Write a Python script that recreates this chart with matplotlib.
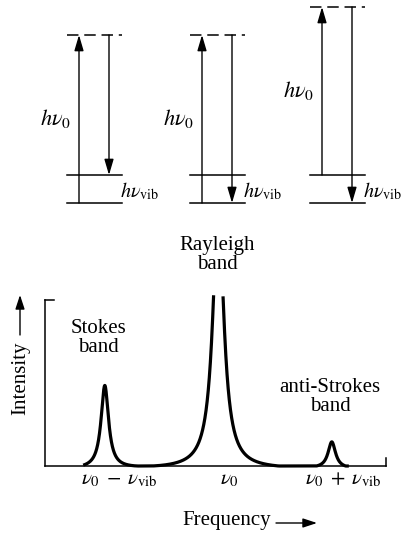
import numpy as np
import matplotlib
matplotlib.use("Agg")
import matplotlib.pyplot as plt
from matplotlib.transforms import ScaledTranslation

plt.rcParams['font.family'] = ['Liberation Serif', 'DejaVu Serif']
plt.rcParams['mathtext.fontset'] = 'stix'

# ---------------- data ----------------
# energy levels (units of h*nu_vib)
E_ground = 0.0
E_vib = 1.0
E_photon = 6.0          # h*nu0 in units of h*nu_vib
diagram_x = [67, 190, 310]                 # left edge of each level diagram (px)
up_from = [E_ground, E_ground, E_vib]       # absorbed photon start level
down_to = [E_vib, E_ground, E_ground]       # emitted photon end level

# spectrum: band positions (units of nu_vib relative to nu0), heights, widths
band_names = ["Stokes\nband", "Rayleigh\nband", "anti-Strokes\nband"]
band_pos = [-1.0, 0.0, 1.0]
band_height = [0.50, 1.58, 0.16]
band_width = [0.040, 0.058, 0.040]
tick_labels = [r"$\nu_0\;-\;\nu_{\rm vib}$", r"$\nu_0$", r"$\nu_0\;+\;\nu_{\rm vib}$"]

W, H = 404, 537
FS = 15
fig = plt.figure(figsize=(W / 100, H / 100), dpi=100)

# ---------------- top: energy level diagrams ----------------
top_px = 220
ax1 = fig.add_axes([0, 1 - top_px / H, 1, top_px / H])
px_per_E = 28.0
y0_px = 203.0
ax1.set_xlim(0, W)
ax1.set_ylim((y0_px - top_px) / px_per_E, y0_px / px_per_E)
ax1.axis('off')

lw_level = 1.1
astyle = "-|>,head_length=0.95,head_width=0.28"
for i, x0 in enumerate(diagram_x):
    x1 = x0 + 55
    ax1.plot([x0, x1], [E_ground, E_ground], color='black', lw=lw_level)
    ax1.plot([x0, x1], [E_vib, E_vib], color='black', lw=lw_level)
    E_virt = up_from[i] + E_photon
    ax1.plot([x0, x1], [E_virt, E_virt], color='black', lw=lw_level,
             linestyle=(0, (7.5, 3.8)))
    xu = x0 + 12
    xd = x0 + 42
    ax1.annotate("", xy=(xu, E_virt), xytext=(xu, up_from[i]),
                 arrowprops=dict(arrowstyle=astyle, color='black', lw=1.0,
                                 shrinkA=0, shrinkB=0))
    ax1.annotate("", xy=(xd, down_to[i]), xytext=(xd, E_virt),
                 arrowprops=dict(arrowstyle=astyle, color='black', lw=1.0,
                                 shrinkA=0, shrinkB=0))
    # labels
    ax1.text(xu - 8, (up_from[i] + E_virt) / 2, r"$h\nu_0$", fontsize=16,
             ha='right', va='center')
    ax1.text(x1 - 2, (E_ground + E_vib) / 2 - 0.1, r"$h\nu_{\rm vib}$",
             fontsize=14.5, ha='left', va='center')

# ---------------- bottom: spectrum ----------------
ax_l, ax_r, ax_t, ax_b = 45, 386, 300, 466
ax2 = fig.add_axes([ax_l / W, (H - ax_b) / H, (ax_r - ax_l) / W, (ax_b - ax_t) / H])
unit = 113.5
x_center_px = 218.3
ax2.set_xlim((ax_l - x_center_px) / unit, (ax_r - x_center_px) / unit)
ax2.set_ylim(0, 1.0)

x = np.linspace(-1.19, 1.15, 4000)
y = np.zeros_like(x)
for p, h, g in zip(band_pos, band_height, band_width):
    y += h * g**2 / ((x - p)**2 + g**2)
y = np.clip(y - 0.02, 0, None)
y = np.where(y > 1.03, np.nan, y)
ax2.plot(x, y, color='black', lw=2.3, clip_on=False, solid_capstyle='butt')

for s in ['top', 'right']:
    ax2.spines[s].set_visible(False)
for s in ['left', 'bottom']:
    ax2.spines[s].set_linewidth(1.1)
# small end marks
ax2.plot([0, 0.025], [1, 1], transform=ax2.transAxes, color='black', lw=1.1, clip_on=False)
ax2.plot([1, 1], [0, 0.05], transform=ax2.transAxes, color='black', lw=1.1, clip_on=False)

ax2.set_yticks([])
ax2.set_xticks(band_pos)
ax2.set_xticklabels(tick_labels, fontsize=15)
ax2.tick_params(axis='x', length=0, pad=3)
offs = [0.15, 0.11, 0.12]
for lab, o in zip(ax2.get_xticklabels(), offs):
    lab.set_transform(lab.get_transform() + ScaledTranslation(o, 0, fig.dpi_scale_trans))

label_px = [(98, 338), (217, 255), (330, 397)]
for name, (lx, ly) in zip(band_names, label_px):
    fig.text(lx / W, 1 - ly / H, name, fontsize=FS, ha='center', va='center',
             linespacing=1.05)

# axis titles with arrows
fig.text(21 / W, 1 - 378 / H, "Intensity", rotation=90, fontsize=FS,
         ha='center', va='center')
fig.add_artist(matplotlib.patches.FancyArrowPatch(
    (20 / W, 1 - 335 / H), (20 / W, 1 - 295 / H), transform=fig.transFigure,
    arrowstyle="-|>,head_length=0.85,head_width=0.28", color='black', lw=1.0,
    mutation_scale=10, shrinkA=0, shrinkB=0))
fig.text(227 / W, 1 - 521 / H, "Frequency", fontsize=FS, ha='center', va='center')
fig.add_artist(matplotlib.patches.FancyArrowPatch(
    (276 / W, 1 - 523 / H), (317 / W, 1 - 523 / H), transform=fig.transFigure,
    arrowstyle="-|>,head_length=0.85,head_width=0.28", color='black', lw=1.0,
    mutation_scale=10, shrinkA=0, shrinkB=0))

fig.savefig("out.png", dpi=100)
